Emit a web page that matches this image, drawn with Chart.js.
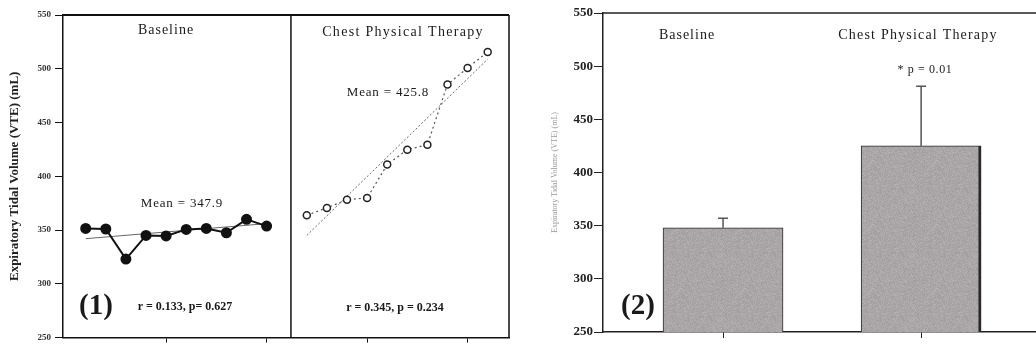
<!DOCTYPE html>
<html><head><meta charset="utf-8">
<script src="https://cdn.jsdelivr.net/npm/chart.js@4"></script>
<style>
html,body{margin:0;padding:0;background:#fff;width:1036px;height:347px;overflow:hidden}
#c1{position:absolute;left:0;top:0}
#c2{position:absolute;left:520px;top:0}
</style></head><body>
<canvas id="c1" width="520" height="347"></canvas>
<canvas id="c2" width="516" height="347"></canvas>
<script>
// ---- data ----
const yTicks = [250, 300, 350, 400, 450, 500, 550];
const xTicks = [5, 10, 15, 20];
const baselineIdx = [1, 2, 3, 4, 5, 6, 7, 8, 9, 10];
const baselineVTE = [351.5, 351, 323, 345, 344.5, 350.6, 351.5, 347.5, 360, 353.7];
const cptIdx = [12, 13, 14, 15, 16, 17, 18, 19, 20, 21];
const cptVTE = [363.8, 370.6, 378.3, 379.8, 410.9, 424.8, 429.4, 485.4, 500.8, 515.6];
const baselineFitX = [1, 10];
const baselineFitY = [342, 356];
const cptFitX = [12, 21];
const cptFitY = [345, 509];
const panelSplit = 11.21;
const categories = ['Baseline', 'Chest Physical Therapy'];
const meanVTE = [348, 425];
const semVTE = [9, 56];

// ---- helpers ----
const serif = "'Liberation Serif','DejaVu Serif','Times New Roman',serif";
const pts = (xs, ys) => xs.map((x, i) => ({x: x, y: ys[i]}));

function drawText(ctx, t) {
  ctx.save();
  ctx.font = (t.weight || 'normal') + ' ' + t.size + 'px ' + serif;
  ctx.fillStyle = t.color || '#1a1a1a';
  ctx.textAlign = 'center';
  ctx.textBaseline = 'middle';
  if ('letterSpacing' in ctx) ctx.letterSpacing = (t.ls || 0) + 'px';
  ctx.fillText(t.text, t.x, t.y);
  ctx.restore();
}

const texts1 = [
  {text: 'Baseline', x: 166, y: 30, size: 14, ls: 1},
  {text: 'Chest Physical Therapy', x: 403, y: 32, size: 14, ls: 1.3},
  {text: 'Mean = 347.9', x: 182, y: 204, size: 13, ls: 0.8},
  {text: 'Mean = 425.8', x: 388, y: 93, size: 13, ls: 0.8},
  {text: '(1)', x: 96, y: 307, size: 29, weight: 'bold'},
  {text: 'r = 0.133, p= 0.627', x: 185, y: 307, size: 12, weight: 'bold'},
  {text: 'r = 0.345, p = 0.234', x: 395, y: 308, size: 12, weight: 'bold'}
];
const texts2 = [
  {text: 'Baseline', x: 167, y: 35, size: 14, ls: 1},
  {text: 'Chest Physical Therapy', x: 398, y: 35, size: 14, ls: 1.2},
  {text: '* p = 0.01', x: 405, y: 70, size: 12, ls: 0.6},
  {text: '(2)', x: 118, y: 307, size: 29, weight: 'bold'}
];

const frame1 = {
  id: 'frame1',
  afterDraw(chart) {
    const ctx = chart.ctx, a = chart.chartArea, xs = chart.scales.x;
    ctx.save();
    ctx.strokeStyle = '#111';
    ctx.lineWidth = 2;
    ctx.beginPath();
    ctx.moveTo(a.left, a.top); ctx.lineTo(a.right, a.top);
    ctx.stroke();
    ctx.lineWidth = 1.5;
    ctx.beginPath();
    ctx.moveTo(a.right, a.top); ctx.lineTo(a.right, a.bottom);
    const sx = xs.getPixelForValue(panelSplit);
    ctx.moveTo(sx, a.top); ctx.lineTo(sx, a.bottom);
    ctx.stroke();
    ctx.restore();
    texts1.forEach(t => drawText(ctx, t));
  }
};

const frame2 = {
  id: 'frame2',
  afterDatasetsDraw(chart) {
    const ctx = chart.ctx, xs = chart.scales.x, ys = chart.scales.y;
    ctx.save();
    ctx.strokeStyle = '#555';
    ctx.lineWidth = 1.5;
    categories.forEach((c, i) => {
      const px = xs.getPixelForValue(i + 1);
      const y0 = ys.getPixelForValue(meanVTE[i]);
      const y1 = ys.getPixelForValue(meanVTE[i] + semVTE[i]);
      ctx.beginPath();
      ctx.moveTo(px, y0); ctx.lineTo(px, y1);
      ctx.moveTo(px - 5, y1); ctx.lineTo(px + 5, y1);
      ctx.stroke();
    });
    ctx.restore();
  },
  afterDraw(chart) {
    const ctx = chart.ctx, a = chart.chartArea;
    ctx.save();
    ctx.strokeStyle = '#222';
    ctx.lineWidth = 1.5;
    ctx.beginPath();
    ctx.moveTo(a.left, a.top); ctx.lineTo(a.right, a.top);
    ctx.stroke();
    ctx.restore();
    texts2.forEach(t => drawText(ctx, t));
  }
};

// grainy gray fill (deterministic texture)
function grainPattern() {
  const c = document.createElement('canvas');
  c.width = 64; c.height = 64;
  const g = c.getContext('2d');
  const img = g.createImageData(64, 64);
  let s = 12345;
  for (let i = 0; i < 64 * 64; i++) {
    s = (s * 1103515245 + 12345) & 0x7fffffff;
    const v = 166 + ((s >> 16) % 20) - 10;
    img.data[i * 4] = v + 5; img.data[i * 4 + 1] = v; img.data[i * 4 + 2] = v + 1; img.data[i * 4 + 3] = 255;
  }
  g.putImageData(img, 0, 0);
  return g.createPattern(c, 'repeat');
}

new Chart(document.getElementById('c1'), {
  type: 'line',
  data: {datasets: [
    {data: pts(baselineIdx, baselineVTE), borderColor: '#111', borderWidth: 2, pointRadius: 4.5,
     pointBackgroundColor: '#111', pointBorderColor: '#111', tension: 0},
    {data: pts(baselineFitX, baselineFitY), borderColor: '#666', borderWidth: 1, pointRadius: 0},
    {data: pts(cptIdx, cptVTE), borderColor: '#555', borderWidth: 1.2, borderDash: [2, 3], pointRadius: 3.5,
     pointBackgroundColor: '#fff', pointBorderColor: '#222', pointBorderWidth: 1.5},
    {data: pts(cptFitX, cptFitY), borderColor: '#666', borderWidth: 1, borderDash: [2, 2], pointRadius: 0}
  ]},
  options: {
    responsive: false, animation: false, devicePixelRatio: 1,
    layout: {padding: {top: 15, right: 11, left: 0, bottom: 0}},
    plugins: {legend: {display: false}, tooltip: {enabled: false}},
    scales: {
      x: {type: 'linear', min: -0.13, max: 22.06,
          afterBuildTicks: s => { s.ticks = xTicks.map(v => ({value: v})); },
          ticks: {display: false},
          grid: {drawOnChartArea: false, drawTicks: true, tickLength: 5, color: '#111'},
          border: {color: '#111', width: 1.5},
          afterFit: s => { s.height = 6; }},
      y: {min: 250, max: 550,
          afterBuildTicks: s => { s.ticks = yTicks.map(v => ({value: v})); },
          ticks: {font: {family: serif, size: 9, weight: 'bold'}, color: '#333', padding: 4},
          grid: {drawOnChartArea: false, tickLength: 8, color: '#111'},
          border: {color: '#111', width: 1.5},
          title: {display: true, text: 'Expiratory Tidal Volume (VTE) (mL)',
                  font: {family: serif, size: 13, weight: 'bold'}, color: '#222', padding: {top: 7, bottom: 0}},
          afterFit: s => { s.width = 63; }}
    }
  },
  plugins: [frame1]
});

new Chart(document.getElementById('c2'), {
  type: 'bar',
  data: {datasets: [{
    data: categories.map((c, i) => ({x: i + 1, y: meanVTE[i]})),
    backgroundColor: grainPattern(),
    borderColor: '#2a2a2a',
    borderWidth: ctx => ctx.dataIndex === 1 ? {top: 1, left: 1, right: 3, bottom: 0} : {top: 1, left: 1, right: 1, bottom: 0},
    borderSkipped: false,
    barThickness: 120
  }]},
  options: {
    responsive: false, animation: false, devicePixelRatio: 1,
    layout: {padding: {top: 13, right: 0, left: 0, bottom: 0}},
    plugins: {legend: {display: false}, tooltip: {enabled: false}},
    scales: {
      x: {type: 'linear', min: 0.394, max: 2.58, offset: false,
          afterBuildTicks: s => { s.ticks = categories.map((c, i) => ({value: i + 1})); },
          ticks: {display: false},
          grid: {offset: false, drawOnChartArea: false, drawTicks: true, tickLength: 6, color: '#222'},
          border: {color: '#222', width: 1.5},
          afterFit: s => { s.height = 15; }},
      y: {min: 250, max: 550,
          afterBuildTicks: s => { s.ticks = yTicks.map(v => ({value: v})); },
          ticks: {font: {family: serif, size: 13, weight: 'bold'}, color: '#222', padding: 1},
          grid: {drawOnChartArea: false, tickLength: 9, color: '#222'},
          border: {color: '#222', width: 1.5},
          title: {display: true, text: 'Expiratory Tidal Volume (VTE) (mL)',
                  font: {family: serif, size: 8}, color: '#999', padding: {top: 30, bottom: 0}},
          afterFit: s => { s.width = 83; }}
    }
  },
  plugins: [frame2]
});
</script>
</body></html>
